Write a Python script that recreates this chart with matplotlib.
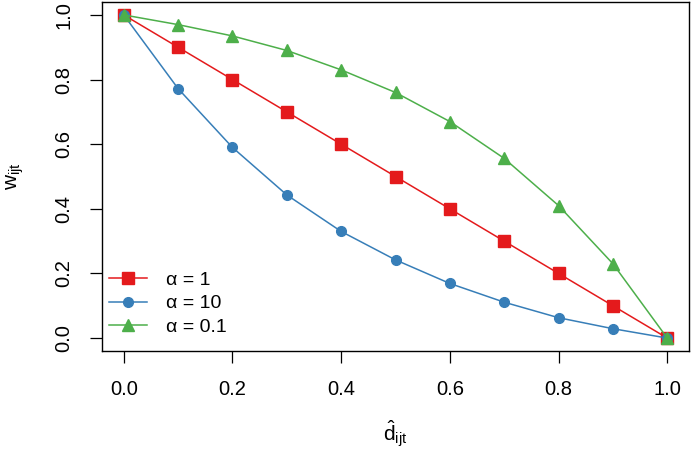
import matplotlib
matplotlib.use("Agg")
import matplotlib.pyplot as plt

plt.rcParams['font.family'] = ['Liberation Sans', 'DejaVu Sans']
plt.rcParams['mathtext.fontset'] = 'custom'
plt.rcParams['mathtext.rm'] = 'Liberation Sans'
plt.rcParams['mathtext.it'] = 'Liberation Sans'

# distance values on the x axis
d = [0.0, 0.1, 0.2, 0.3, 0.4, 0.5, 0.6, 0.7, 0.8, 0.9, 1.0]
# weights
w_a1 = [1.0, 0.9, 0.8, 0.7, 0.6, 0.5, 0.4, 0.3, 0.2, 0.1, 0.0]
w_a10 = [1.0, 0.772, 0.59, 0.443, 0.33, 0.242, 0.169, 0.111, 0.063, 0.029, 0.0]
w_a01 = [1.0, 0.97, 0.935, 0.89, 0.83, 0.76, 0.67, 0.556, 0.41, 0.23, 0.0]

labels = ["\u03b1 = 1", "\u03b1 = 10", "\u03b1 = 0.1"]
ticks = [0.0, 0.2, 0.4, 0.6, 0.8, 1.0]

fig = plt.figure(figsize=(6.92, 4.5), dpi=100)
ax = fig.add_axes([102/692, 1-351/450, 587/692, 349/450])

ax.plot(d, w_a1, color='#E41A1C', marker='s', ms=8.5, lw=1.1, label=labels[0])
ax.plot(d, w_a10, color='#377EB8', marker='o', ms=7, lw=1.1, label=labels[1])
ax.plot(d, w_a01, color='#4DAF4A', marker='^', ms=8.5, lw=1.1, label=labels[2])

ax.set_xlim(-0.04, 1.04)
ax.set_ylim(-0.04, 1.04)
ax.set_xticks(ticks)
ax.set_yticks(ticks)
ax.set_xticklabels([f"{t:.1f}" for t in ticks])
ax.set_yticklabels([f"{t:.1f}" for t in ticks], rotation=90, va='center')
ax.tick_params(length=8.6, width=0.9, labelsize=14.5, pad=12)
for s in ax.spines.values():
    s.set_linewidth(1.0)

ax.legend(loc='upper left', bbox_to_anchor=(0.012, 0.228), frameon=False,
          borderpad=0, borderaxespad=0, fontsize=14, handlelength=1.95,
          handletextpad=1.0, labelspacing=0.3)

fig.text(395/692, 1-434/450, r'$\hat{\mathrm{d}}_{\mathrm{ijt}}$', ha='center', va='center', fontsize=15)
fig.text(15/692, 1-176/450, r'$\mathrm{w}_{\mathrm{ijt}}$', ha='center', va='center', rotation=90, fontsize=15)

fig.savefig("out.png", dpi=100)
